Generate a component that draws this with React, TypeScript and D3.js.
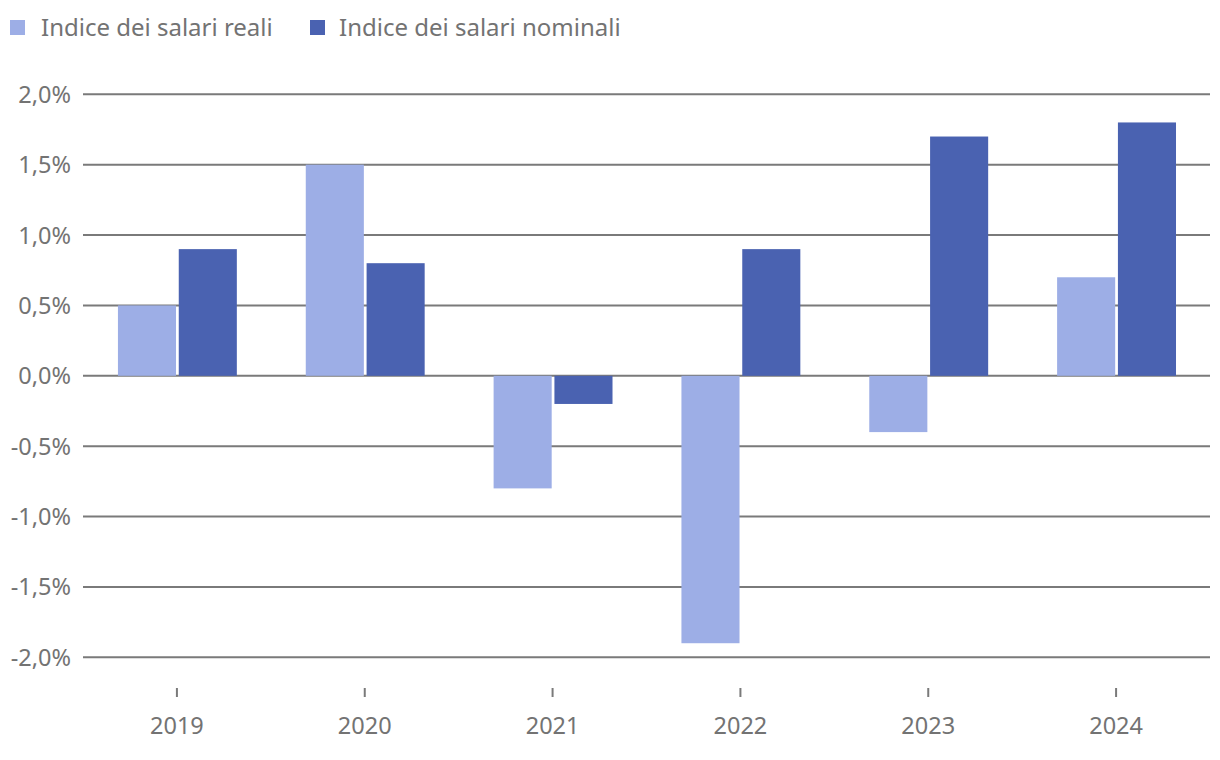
import React from "react";
import * as d3 from "d3";

const years = ["2019", "2020", "2021", "2022", "2023", "2024"];
const seriesNames = ["Indice dei salari reali", "Indice dei salari nominali"];
const realiValues = [0.5, 1.5, -0.8, -1.9, -0.4, 0.7];
const nominaliValues = [0.9, 0.8, -0.2, 0.9, 1.7, 1.8];
const yTicks = [-2, -1.5, -1, -0.5, 0, 0.5, 1, 1.5, 2];

const colors = ["#9daee6", "#4a62b1"];
const textColor = "#737373";
const gridColor = "#7a7a7a";
const font = "'Noto Sans', 'Open Sans', sans-serif";

const width = 1220;
const height = 760;

const fmt = (v: number) => (Math.abs(v) < 1e-9 ? 0 : v).toFixed(1).replace(".", ",") + "%";

export default function App() {
  const x = d3.scaleBand<string>().domain(years).range([83, 1210]);
  const bw = x.bandwidth();
  const xInner = d3
    .scaleBand<string>()
    .domain(seriesNames)
    .range([bw * 0.186, bw * 0.819])
    .paddingInner(0.045);
  const y = d3.scaleLinear().domain([-2, 2]).range([657.3, 94.3]);

  const rows = years.map((yr, i) => ({ year: yr, values: [realiValues[i], nominaliValues[i]] }));

  return (
    <div style={{ position: "fixed", left: 0, top: 0 }}>
      <svg width={width} height={height} style={{ display: "block", background: "#fff" }} fontFamily={font}>
        {/* legend */}
        <g>
          <rect x={10} y={20} width={15} height={15} fill={colors[0]} />
          <text x={41} y={35.5} fontSize={24} fill={textColor}>{seriesNames[0]}</text>
          <rect x={310} y={20} width={15} height={15} fill={colors[1]} />
          <text x={339} y={35.5} fontSize={24} fill={textColor}>{seriesNames[1]}</text>
        </g>

        {/* grid + y labels */}
        {yTicks.map((t) => (
          <g key={t}>
            <line x1={83} x2={1210} y1={y(t)} y2={y(t)} stroke={gridColor} strokeWidth={2} />
            <text x={71} y={y(t) + 8.5} textAnchor="end" fontSize={23.5} fill={textColor}>
              {fmt(t)}
            </text>
          </g>
        ))}

        {/* bars */}
        {rows.map((r) => (
          <g key={r.year} transform={`translate(${x(r.year)},0)`}>
            {r.values.map((v, j) => (
              <rect
                key={j}
                x={xInner(seriesNames[j])}
                width={xInner.bandwidth()}
                y={Math.min(y(v), y(0))}
                height={Math.abs(y(v) - y(0))}
                fill={colors[j]}
              />
            ))}
          </g>
        ))}

        {/* x axis ticks and labels */}
        {years.map((yr) => {
          const cx = (x(yr) as number) + bw / 2;
          return (
            <g key={yr}>
              <line x1={cx} x2={cx} y1={688} y2={697} stroke={gridColor} strokeWidth={2} />
              <text x={cx} y={734} textAnchor="middle" fontSize={23.5} fill={textColor}>
                {yr}
              </text>
            </g>
          );
        })}
      </svg>
    </div>
  );
}
